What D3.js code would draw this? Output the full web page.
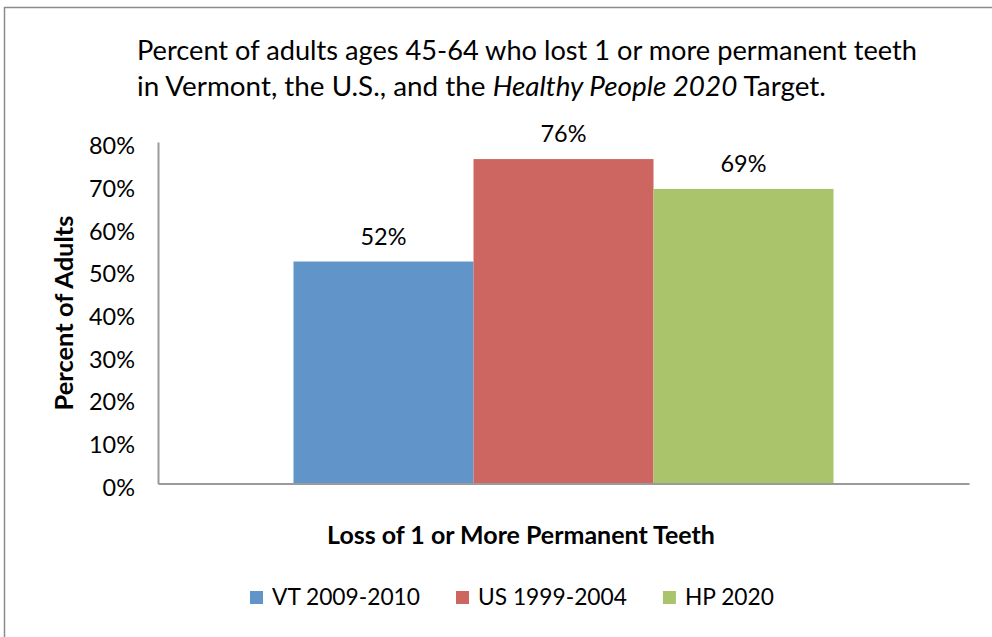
<!DOCTYPE html>
<html>
<head>
<meta charset="utf-8">
<script src="https://cdn.jsdelivr.net/npm/d3@7"></script>
<style>
  html, body { margin: 0; padding: 0; background: #fff; }
  svg { display: block; }
  text { font-family: Lato, "Noto Sans", sans-serif; fill: #000; }
</style>
</head>
<body>
<svg id="chart" width="992" height="637"></svg>
<script>
const categories = ["Loss of 1 or More Permanent Teeth"];
const seriesNames = ["VT 2009-2010", "US 1999-2004", "HP 2020"];
const seriesValues = [0.52, 0.76, 0.69];
const yTickValues = [0, 0.1, 0.2, 0.3, 0.4, 0.5, 0.6, 0.7, 0.8];
const seriesColors = ["#6194C8", "#CD6661", "#AAC46B"];
const titleLine1 = "Percent of adults ages 45-64 who lost 1 or more permanent teeth";
const titleLine2 = [["in Vermont, the U.S., and the ", "normal"], ["Healthy People 2020", "italic"], [" Target.", "normal"]];
const yAxisTitle = "Percent of Adults";

const svg = d3.select("#chart");
const plot = { left: 158, right: 969, top: 142, bottom: 483.5 };

// font size giving a target width for a sample string
function sizeFor(str, target, weight) {
  const t = svg.append("text").attr("font-size", 20).attr("font-weight", weight || "normal").text(str);
  const len = t.node().getComputedTextLength();
  t.remove();
  return +(20 * target / len).toFixed(2);
}
function fit(sel, target) {
  const base = parseFloat(sel.attr("font-size"));
  const len = sel.node().getComputedTextLength();
  sel.attr("font-size", (base * target / len).toFixed(2));
}

const tickFont = sizeFor("80%", 46);
const labelFont = sizeFor("52%", 46);
const legendFont = sizeFor(seriesNames[0], 148);

// outer border (chart area frame, extends off-image)
svg.append("rect")
  .attr("x", 4.5).attr("y", 7.5).attr("width", 1100).attr("height", 800)
  .attr("fill", "none").attr("stroke", "#8c8c8c").attr("stroke-width", 1.5);

// title
const t1 = svg.append("text").attr("x", 137).attr("y", 60).attr("font-size", 24).text(titleLine1);
fit(t1, 780);
const t2 = svg.append("text").attr("x", 137).attr("y", 96).attr("font-size", 24);
t2.selectAll("tspan").data(titleLine2).join("tspan")
  .attr("font-style", d => d[1]).text(d => d[0]);
fit(t2, 689);

// scales
const y = d3.scaleLinear().domain([0, 0.8]).range([plot.bottom, plot.top]);
const x = d3.scaleBand().domain(categories).range([plot.left, plot.right]).paddingInner(0).paddingOuter(0.2509);
const xs = d3.scaleBand().domain(seriesNames).range([0, x.bandwidth()]).padding(0);

// bars
const g = svg.append("g");
categories.forEach(cat => {
  g.selectAll("rect.bar").data(seriesNames.map((s, i) => ({ s, v: seriesValues[i], c: seriesColors[i] })))
    .join("rect").attr("class", "bar")
    .attr("x", d => x(cat) + xs(d.s))
    .attr("y", d => y(d.v))
    .attr("width", xs.bandwidth())
    .attr("height", d => y(0) - y(d.v))
    .attr("fill", d => d.c);
  g.selectAll("text.lbl").data(seriesNames.map((s, i) => ({ s, v: seriesValues[i] })))
    .join("text").attr("class", "lbl")
    .attr("x", d => x(cat) + xs(d.s) + xs.bandwidth() / 2)
    .attr("y", d => y(d.v) - 17)
    .attr("text-anchor", "middle")
    .attr("font-size", labelFont)
    .text(d => d3.format(".0%")(d.v));
});

// y axis
const yAxis = svg.append("g").attr("transform", `translate(${plot.left},0)`)
  .call(d3.axisLeft(y).tickValues(yTickValues).tickFormat(d3.format(".0%")).tickSizeInner(0).tickSizeOuter(0).tickPadding(23));
yAxis.select(".domain").attr("stroke", "#9a9a9a").attr("stroke-width", 2);
yAxis.selectAll(".tick text").attr("font-size", tickFont).attr("font-family", "Lato, 'Noto Sans', sans-serif").attr("dy", "0.5em").attr("fill", "#000");

// x axis
const xAxis = svg.append("g").attr("transform", `translate(0,${plot.bottom})`)
  .call(d3.axisBottom(x).tickSize(0).tickFormat(""));
xAxis.select(".domain").attr("stroke", "#9a9a9a").attr("stroke-width", 2);

// axis titles
const xt = svg.append("text").attr("x", 521).attr("y", 544).attr("text-anchor", "middle")
  .attr("font-weight", "bold").attr("font-size", 20).text(categories[0]);
fit(xt, 388);
const yt = svg.append("text").attr("transform", "translate(73,313) rotate(-90)").attr("text-anchor", "middle")
  .attr("font-weight", "bold").attr("font-size", 20).text(yAxisTitle);
fit(yt, 195);

// legend
const leg = svg.append("g");
let lx = 250;
seriesNames.forEach((s, i) => {
  leg.append("rect").attr("x", lx).attr("y", 591).attr("width", 13).attr("height", 13).attr("fill", seriesColors[i]);
  const tx = leg.append("text").attr("x", lx + 22).attr("y", 605).attr("font-size", legendFont).text(s);
  lx += 22 + tx.node().getComputedTextLength() + 36;
});
</script>
</body>
</html>
